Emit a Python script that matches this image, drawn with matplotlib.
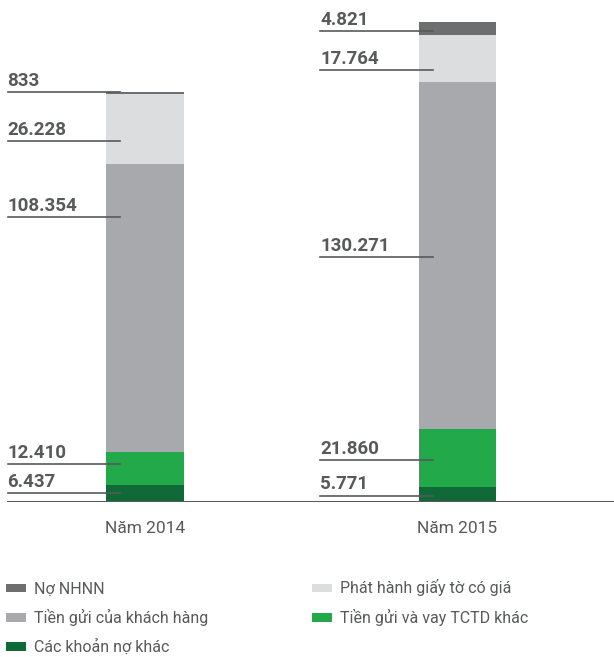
import numpy as np
import matplotlib
matplotlib.use("Agg")
import matplotlib.pyplot as plt

plt.rcParams['font.family'] = ['Roboto', 'DejaVu Sans']

# du lieu (ty dong)
years = ['Năm 2014', 'Năm 2015']
series = ['Các khoản nợ khác', 'Tiền gửi và vay TCTD khác', 'Tiền gửi của khách hàng',
          'Phát hành giấy tờ có giá', 'Nợ NHNN']
other = [6437, 5771]
tctd = [12410, 21860]
deposits = [108354, 130271]
papers = [26228, 17764]
sbv = [833, 4821]
labels_2014 = ['6.437', '12.410', '108.354', '26.228', '833']
labels_2015 = ['5.771', '21.860', '130.271', '17.764', '4.821']

colors = ['#0f6a37', '#22aa4a', '#a7a9ac', '#dcdddf', '#6d6e70']
# vi tri cac duong chu thich (don vi du lieu)
label_y = [[3400, 14300, 107200, 135700, 154000],
           [2300, 15800, 92100, 162400, 177100]]

fig = plt.figure(figsize=(6.14, 6.57), dpi=100)
ax = fig.add_axes([7 / 614, 155 / 657, 607 / 614, 492 / 657])

x = np.arange(len(years))
values = [other, tctd, deposits, papers, sbv]
bottom = np.zeros(len(years))
bars = []
for vals, col, name in zip(values, colors, series):
    b = ax.bar(x, vals, width=0.248, bottom=bottom, color=col, label=name, zorder=2)
    bars.append(b)
    bottom += np.array(vals)

gray = '#58595b'
for i, labs in enumerate([labels_2014, labels_2015]):
    for lab, yy in zip(labs, label_y[i]):
        ax.plot([x[i] - 0.44, x[i] - 0.08], [yy, yy], color=gray, lw=1.2, zorder=3)
        ax.text(x[i] - 0.44, yy + 900, lab, fontsize=13.5, fontweight='bold',
                color=gray, ha='left', va='bottom')

ax.set_xlim(-0.4416, 1.5008)
ax.set_ylim(0, 185000)
ax.axhline(0, color=gray, lw=2.2, zorder=4)
for s in ax.spines.values():
    s.set_visible(False)
ax.set_yticks([])
ax.set_xticks(x)
ax.set_xticklabels(years, fontsize=12.5, color=gray)
ax.tick_params(axis='x', length=0, pad=14)

# chu giai
order = [4, 2, 0, 3, 1]
fig.legend([bars[k] for k in order], [series[k] for k in order], ncol=2,
           loc='upper left', bbox_to_anchor=(0.0, 1 - 573 / 657), frameon=False,
           fontsize=11.5, labelcolor=gray, handlelength=1.25, handleheight=0.4,
           handletextpad=0.5, columnspacing=6.5, labelspacing=0.8, borderaxespad=0)

plt.savefig('out.png', dpi=100)
